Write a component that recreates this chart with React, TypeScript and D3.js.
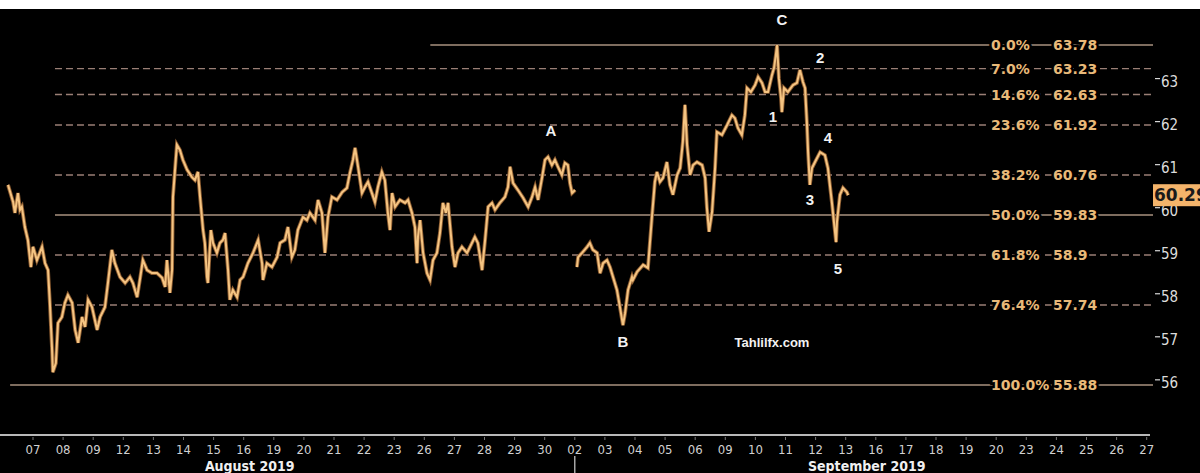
import React from 'react';
import * as d3 from 'd3';

const W = 1200;
const H = 473;

// trading days shown on the time axis (Aug 07 .. Sep 27)
const dayLabels = [
  '07', '08', '09', '12', '13', '14', '15', '16', '19', '20', '21', '22', '23', '26', '27', '28', '29', '30',
  '02', '03', '04', '05', '06', '09', '10', '11', '12', '13', '16', '17', '18', '19', '20', '23', '24', '25', '26', '27',
];
const monthNames = ['August 2019', 'September 2019'];
const monthCenters = [7.2, 27.7];

const fibPct = ['0.0%', '7.0%', '14.6%', '23.6%', '38.2%', '50.0%', '61.8%', '76.4%', '100.0%'];
const fibLevel = [63.78, 63.23, 62.63, 61.92, 60.76, 59.83, 58.9, 57.74, 55.88];
const priceTicks = [56, 57, 58, 59, 60, 61, 62, 63];
const lastPrice = 60.29;

// [trading day offset from Aug 07, price]
const sessionAug: [number, number][] = [
  [-0.83, 60.53], [-0.66, 60.13], [-0.6, 59.88], [-0.5, 60.34], [-0.43, 59.95], [-0.37, 60.02], [-0.27, 59.55],
  [-0.17, 59.25], [-0.07, 58.62], [0, 59.09], [0.13, 58.78], [0.3, 59.09], [0.4, 58.71], [0.5, 58.55],
  [0.56, 57.79], [0.63, 56.76], [0.66, 56.18], [0.76, 56.39], [0.83, 57.32], [0.96, 57.46], [1.06, 57.79],
  [1.16, 57.97], [1.3, 57.79], [1.4, 57.16], [1.5, 56.86], [1.63, 57.46], [1.73, 57.23], [1.83, 57.86],
  [1.96, 57.69], [2.13, 57.16], [2.23, 57.46], [2.39, 57.69], [2.49, 58.25], [2.62, 59.02], [2.72, 58.71],
  [2.89, 58.39], [3.06, 58.25], [3.22, 58.39], [3.32, 58.25], [3.46, 57.92], [3.55, 58.32], [3.65, 58.78],
  [3.79, 58.55], [3.95, 58.48], [4.12, 58.48], [4.29, 58.37], [4.39, 58.16], [4.45, 58.78], [4.55, 58.02],
  [4.62, 58.55], [4.65, 60.25], [4.78, 61.46], [4.88, 61.34], [4.98, 61.11], [5.12, 60.88], [5.28, 60.71],
  [5.38, 60.64], [5.48, 60.83], [5.55, 60.25], [5.65, 59.48], [5.71, 59.18], [5.78, 58.39], [5.81, 58.25],
  [5.91, 59.48], [5.98, 59.18], [6.11, 58.95], [6.21, 59.18], [6.31, 59.25], [6.38, 59.41], [6.48, 58.55],
  [6.54, 57.86], [6.64, 58.09], [6.78, 57.92], [6.88, 58.32], [6.98, 58.39], [7.14, 58.71], [7.31, 58.95],
  [7.48, 59.25], [7.61, 58.71], [7.64, 58.32], [7.77, 58.71], [7.94, 58.62], [8.11, 58.85], [8.21, 59.18],
  [8.37, 59.25], [8.47, 59.55], [8.6, 58.85], [8.7, 59.02], [8.8, 59.48], [8.97, 59.78], [9.1, 59.71],
  [9.2, 59.88], [9.37, 59.71], [9.47, 60.18], [9.6, 59.88], [9.7, 58.95], [9.8, 59.78], [9.93, 60.25],
  [10.1, 60.18], [10.27, 60.36], [10.43, 60.46], [10.53, 60.81], [10.63, 61.11], [10.7, 61.39], [10.8, 60.95],
  [10.93, 60.34], [11.03, 60.48], [11.13, 60.6], [11.26, 60.34], [11.36, 60.13], [11.46, 60.48], [11.59, 60.83],
  [11.69, 60.64], [11.79, 59.88], [11.86, 59.48], [11.93, 60.34], [12.03, 60.02], [12.19, 60.18], [12.36, 60.11],
  [12.46, 60.18], [12.59, 59.88], [12.69, 59.55], [12.76, 58.71], [12.79, 59.32], [12.86, 59.71], [12.96, 58.95],
  [13.09, 58.48], [13.19, 58.32], [13.29, 58.78], [13.42, 58.95], [13.52, 59.41], [13.62, 60.11], [13.72, 59.88],
  [13.79, 60.11], [13.92, 59.09], [14.02, 58.62], [14.12, 58.95], [14.25, 59.09], [14.42, 58.95], [14.52, 59.09],
  [14.68, 59.32], [14.78, 59.18], [14.92, 58.55], [15.02, 59.25], [15.12, 60.02], [15.25, 60.11], [15.35, 59.95],
  [15.51, 60.11], [15.68, 60.25], [15.78, 60.48], [15.85, 60.95], [15.95, 60.57], [16.11, 60.41], [16.28, 60.23],
  [16.45, 60.02], [16.58, 60.25], [16.68, 60.48], [16.78, 60.18], [16.91, 60.69], [17.01, 61.11], [17.11, 61.18],
  [17.24, 60.99], [17.34, 61.11], [17.44, 60.95], [17.57, 60.76], [17.67, 61.04], [17.77, 60.99], [17.84, 60.57],
  [17.91, 60.34], [18.01, 60.41],
];

const sessionSep: [number, number][] = [
  [18.07, 58.62], [18.11, 58.85], [18.24, 58.95], [18.41, 59.09], [18.5, 59.18], [18.6, 59.02], [18.74, 58.95],
  [18.84, 58.48], [18.94, 58.71], [19.07, 58.78], [19.17, 58.62], [19.27, 58.39], [19.4, 58.09], [19.5, 57.69],
  [19.6, 57.27], [19.67, 57.55], [19.77, 58.09], [19.9, 58.39], [19.93, 58.32], [20.07, 58.51], [20.27, 58.67],
  [20.43, 58.6], [20.56, 59.76], [20.66, 60.6], [20.73, 60.83], [20.83, 60.6], [20.93, 60.69], [21.06, 61.06],
  [21.16, 60.53], [21.26, 60.3], [21.4, 60.76], [21.5, 60.92], [21.59, 61.53], [21.66, 62.39], [21.73, 61.46],
  [21.83, 60.76], [21.93, 60.99], [22.06, 61.06], [22.23, 60.99], [22.33, 60.69], [22.39, 59.99], [22.46, 59.44],
  [22.56, 59.9], [22.66, 60.92], [22.72, 61.76], [22.89, 61.69], [23.06, 61.92], [23.22, 62.15], [23.32, 62.08],
  [23.42, 61.85], [23.55, 61.69], [23.65, 62.15], [23.72, 62.78], [23.85, 62.69], [23.99, 62.85], [24.09, 63.04],
  [24.22, 62.9], [24.32, 62.69], [24.42, 62.69], [24.55, 63.08], [24.62, 63.25], [24.68, 63.55], [24.72, 63.78],
  [24.78, 63.01], [24.85, 62.55], [24.88, 62.22], [24.95, 62.78], [25.08, 62.69], [25.25, 62.85], [25.38, 62.9],
  [25.48, 63.2], [25.58, 62.92], [25.65, 62.78], [25.71, 61.99], [25.75, 61.29], [25.81, 60.53], [25.88, 60.92],
  [25.98, 61.06], [26.15, 61.29], [26.31, 61.22], [26.41, 60.92], [26.54, 60.13], [26.61, 59.67], [26.68, 59.2],
  [26.71, 59.67], [26.81, 60.3], [26.91, 60.46], [27.04, 60.36], [27.08, 60.29],
];

const waveText = ['C', '2', '1', 'A', '4', '3', '5', 'B'];
const waveDay = [24.88, 26.15, 24.58, 17.21, 26.41, 25.81, 26.74, 19.6];
const wavePrice = [64.36, 63.48, 62.11, 61.78, 61.62, 60.18, 58.58, 56.88];

const App: React.FC = () => {
  const x = d3.scaleLinear().domain([0, dayLabels.length - 1]).range([33, 1146.7]);
  const y = d3.scaleLinear().domain([55.88, 63.78]).range([385, 45]);

  const line = d3
    .line<[number, number]>()
    .x(d => x(d[0]))
    .y(d => y(d[1]));

  const fibEnd = 1153;
  const fibStart = (i: number) => (i === 0 ? x(13.2) : i === fibLevel.length - 1 ? x(-0.76) : x(0.73));
  const solid = (p: string) => p === '0.0%' || p === '50.0%' || p === '100.0%';

  const axisY = 435;
  const fibFont = "'DejaVu Sans', Verdana, sans-serif";
  const tickFont = "'DejaVu Sans Condensed', 'DejaVu Sans', sans-serif";

  return (
    <svg width={W} height={H} style={{ position: 'absolute', left: 0, top: 0, display: 'block' }}>
      <rect x={0} y={0} width={W} height={H} fill="#ffffff" />
      <rect x={0} y={9} width={W} height={H - 9} fill="#000000" />

      {/* fibonacci levels */}
      {fibLevel.map((v, i) => (
        <line
          key={'f' + i}
          x1={fibStart(i)}
          x2={fibEnd}
          y1={y(v)}
          y2={y(v)}
          stroke={solid(fibPct[i]) ? '#a8927f' : '#9a7f76'}
          strokeWidth={solid(fibPct[i]) ? 1.6 : 1.4}
          strokeDasharray={solid(fibPct[i]) ? undefined : '7,4'}
        />
      ))}

      {/* price path */}
      {[sessionAug, sessionSep].map((s, i) => (
        <g key={'s' + i}>
          <path d={line(s) ?? ''} fill="none" stroke="#8c5c30" strokeWidth={3.8} strokeLinejoin="miter" />
          <path d={line(s) ?? ''} fill="none" stroke="#f5c482" strokeWidth={2} strokeLinejoin="miter" />
        </g>
      ))}

      {/* fib labels */}
      {fibLevel.map((v, i) => (
        <g key={'fl' + i} fontFamily={fibFont} fontWeight="bold" fontSize={14} fill="#e8b979">
          <text x={991} y={y(v)} dy="0.36em" stroke="#000" strokeWidth={5} paintOrder="stroke">
            {fibPct[i]}
          </text>
          <text x={1053} y={y(v)} dy="0.36em" stroke="#000" strokeWidth={5} paintOrder="stroke">
            {String(v)}
          </text>
        </g>
      ))}

      {/* right price axis */}
      {priceTicks.map(p => (
        <g key={'p' + p}>
          <line x1={1155} x2={1160} y1={y(p)} y2={y(p)} stroke="#d8d8d8" strokeWidth={1.2} />
          <text x={1161} y={y(p) + 3} dy="0.36em" fill="#dcdcdc" fontSize={15} fontFamily={tickFont}>
            {p}
          </text>
        </g>
      ))}
      <rect x={1153} y={y(lastPrice) - 11} width={50} height={22} fill="#f4b46b" />
      <text x={1154} y={y(lastPrice)} dy="0.36em" fill="#1a1a1a" fontSize={17} fontWeight="bold" fontFamily={fibFont}>
        {lastPrice.toFixed(2)}
      </text>

      {/* wave annotations */}
      {waveText.map((t, i) => (
        <text
          key={'w' + i}
          x={x(waveDay[i])}
          y={y(wavePrice[i])}
          dy="0.36em"
          textAnchor="middle"
          fill="#f2f2f2"
          fontSize={15}
          fontWeight="bold"
          fontFamily="'Liberation Sans', Arial, sans-serif"
        >
          {t}
        </text>
      ))}
      <text x={772} y={342} dy="0.36em" textAnchor="middle" fill="#f2f2f2" fontSize={13} fontWeight="bold" fontFamily="'Liberation Sans', Arial, sans-serif">
        Tahlilfx.com
      </text>

      {/* time axis */}
      <line x1={0} x2={1150} y1={axisY} y2={axisY} stroke="#b8b8b8" strokeWidth={2} />
      {dayLabels.map((d, i) => (
        <g key={'d' + i}>
          <line x1={x(i)} x2={x(i)} y1={axisY + 2} y2={axisY + 5} stroke="#777" strokeWidth={1} />
          <text x={x(i)} y={449} dy="0.36em" textAnchor="middle" fill="#d0d0d0" fontSize={13} fontFamily={tickFont}>
            {d}
          </text>
        </g>
      ))}
      <line x1={x(18)} x2={x(18)} y1={456} y2={H} stroke="#cfcfcf" strokeWidth={1.2} />
      {monthNames.map((m, i) => (
        <text key={'m' + i} x={x(monthCenters[i])} y={466} dy="0.36em" textAnchor="middle" fill="#f0f0f0" fontSize={14} fontWeight="bold" fontFamily={tickFont}>
          {m}
        </text>
      ))}
    </svg>
  );
};

export default App;
